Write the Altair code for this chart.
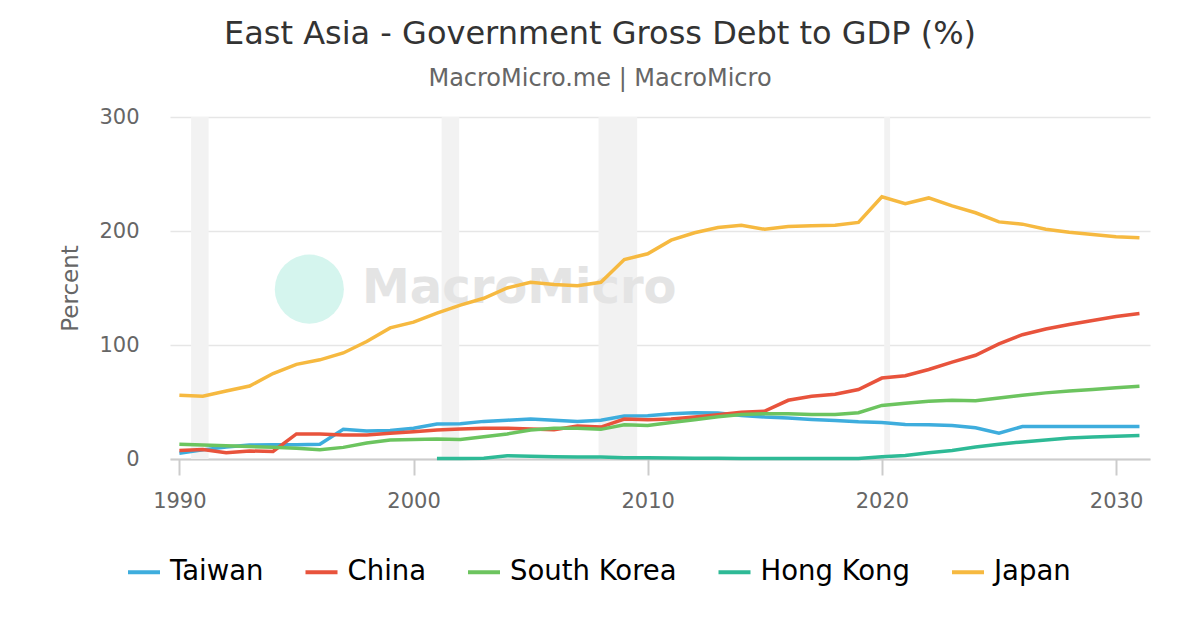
import altair as alt
import pandas as pd

years = list(range(1990, 2032))
taiwan = [5, 8, 10.5, 12.3, 12.6, 12.6, 13, 26, 24.6, 25, 27, 30.7, 31, 33, 34, 35, 34, 33, 34, 37.7,
          38, 39.7, 40.6, 40.3, 38.2, 36.8, 35.9, 34.7, 33.8, 32.6, 32, 30.3, 30, 29.4, 27.4, 22.6,
          28.5, 28.5, 28.5, 28.5, 28.5, 28.5]
china = [7.5, 8.3, 5.5, 7, 6.6, 22, 22, 21, 21, 22.5, 24, 25.5, 26.3, 27, 27, 26.3, 25.7, 29, 28, 35,
         34.4, 35, 36.8, 38.8, 41, 42, 51.5, 55, 56.8, 61, 71, 73, 78.5, 85, 91, 101, 109, 114, 118,
         121.5, 125, 127.6]
south_korea = [13, 12.3, 11.7, 11, 10.2, 9.4, 8.2, 10.2, 14, 16.7, 17, 17.5, 17.2, 19.6, 22, 25.5, 27,
               27, 26, 30, 29.4, 32, 34.4, 37, 39, 39.7, 39.7, 39, 39, 40.6, 47, 49, 50.6, 51.5, 51,
               53.5, 56, 58, 59.7, 61, 62.6, 63.8]
hk_years = list(range(2001, 2032))
hong_kong = [0.5, 0.5, 0.7, 2.9, 2.5, 2, 1.8, 1.7, 1.2, 1, 0.8, 0.7, 0.6, 0.5, 0.5, 0.5, 0.5, 0.5, 0.5,
             2, 3, 5.5, 7.5, 10.5, 13, 15, 16.7, 18.5, 19.4, 20, 20.6]
japan = [56, 55, 59.6, 64, 75, 83, 87, 93, 103, 115, 120, 128, 135, 141, 150, 155, 153, 152, 155, 175,
         180, 192, 198.5, 203, 205, 201.5, 204, 204.5, 205, 207.5, 230, 224, 229, 222, 216, 208, 206,
         201.5, 199, 197, 195, 194]

band_start = [1990.5, 2001.2, 2007.9, 2020.1]
band_end = [1991.25, 2001.95, 2009.55, 2020.35]

series_names = ["Taiwan", "China", "South Korea", "Hong Kong", "Japan"]
series_colors = ["#3EADDD", "#E8533C", "#6CC45F", "#2EBA96", "#F6B940"]

rows = []
for name, vals, yrs in [("Taiwan", taiwan, years), ("China", china, years),
                        ("South Korea", south_korea, years), ("Hong Kong", hong_kong, hk_years),
                        ("Japan", japan, years)]:
    for y, v in zip(yrs, vals):
        rows.append({"year": y, "value": v, "series": name})
df = pd.DataFrame(rows)
bands = pd.DataFrame({"start": band_start, "end": band_end})

FONT = "DejaVu Sans"
xscale = alt.Scale(domain=[1989.6, 2031.45], nice=False, zero=False)
yscale = alt.Scale(domain=[0, 300], nice=False)

band_layer = alt.Chart(bands).mark_rect(color="#F2F2F2").encode(
    x=alt.X("start:Q", scale=xscale),
    x2="end:Q",
    y=alt.value(0),
    y2=alt.value(342),
)

wm_circle = alt.Chart(pd.DataFrame({"x": [1995.55], "y": [149]})).mark_point(
    filled=True, shape="circle", size=4778, color="#D5F5EE", opacity=1
).encode(x=alt.X("x:Q", scale=xscale), y=alt.Y("y:Q", scale=yscale))

wm_text = alt.Chart(pd.DataFrame({"x": [1997.8], "y": [149], "t": ["MacroMicro"]})).mark_text(
    align="left", baseline="middle", font=FONT, fontWeight="bold", fontSize=48, color="#E4E4E4"
).encode(x=alt.X("x:Q", scale=xscale), y=alt.Y("y:Q", scale=yscale), text="t:N")

lines = alt.Chart(df).mark_line(strokeWidth=3.5).encode(
    x=alt.X("year:Q", scale=xscale,
            axis=alt.Axis(title=None, values=[1990, 2000, 2010, 2020, 2030], format="d",
                          grid=False, tickSize=16, tickColor="#CCCCCC", tickWidth=2,
                          domainColor="#CCCCCC", domainWidth=2, labelFontSize=21,
                          labelColor="#666666", labelPadding=15, labelFont=FONT)),
    y=alt.Y("value:Q", scale=yscale,
            axis=alt.Axis(title="Percent", values=[0, 100, 200, 300], grid=True,
                          gridColor="#E6E6E6", gridWidth=1.5, domain=False, ticks=False,
                          labelFontSize=21, labelColor="#666666", labelPadding=31,
                          labelFont=FONT, titleFont=FONT, titleFontSize=23,
                          titleFontWeight="normal", titleColor="#666666", titlePadding=16)),
    color=alt.Color("series:N",
                    scale=alt.Scale(domain=series_names, range=series_colors),
                    sort=series_names,
                    legend=alt.Legend(title=None, orient="none", legendX=-44, legendY=437,
                                      direction="horizontal", symbolType="stroke",
                                      symbolSize=1024, symbolStrokeWidth=4,
                                      labelFontSize=27.5, labelFont=FONT, labelColor="#000000",
                                      labelLimit=400, labelOffset=8, columnPadding=33.5,
                                      padding=0)),
    order=alt.Order("year:Q"),
)

chart = alt.layer(band_layer, wm_circle, wm_text, lines).properties(
    width=980,
    height=342,
    padding={"left": 162, "top": 109, "right": 42, "bottom": 163},
    autosize=alt.AutoSizeParams(type="none"),
    title=alt.TitleParams(
        text="East Asia - Government Gross Debt to GDP (%)",
        subtitle="MacroMicro.me | MacroMicro",
        anchor="middle", dx=-60, font=FONT, subtitleFont=FONT,
        fontSize=32, subtitleFontSize=24, fontWeight="normal",
        color="#333333", subtitleColor="#666666", offset=14, subtitlePadding=16,
    ),
).configure(background="white", view=alt.ViewConfig(stroke=None))

chart.save("out.html", embed_options={"renderer": "svg", "actions": False})
